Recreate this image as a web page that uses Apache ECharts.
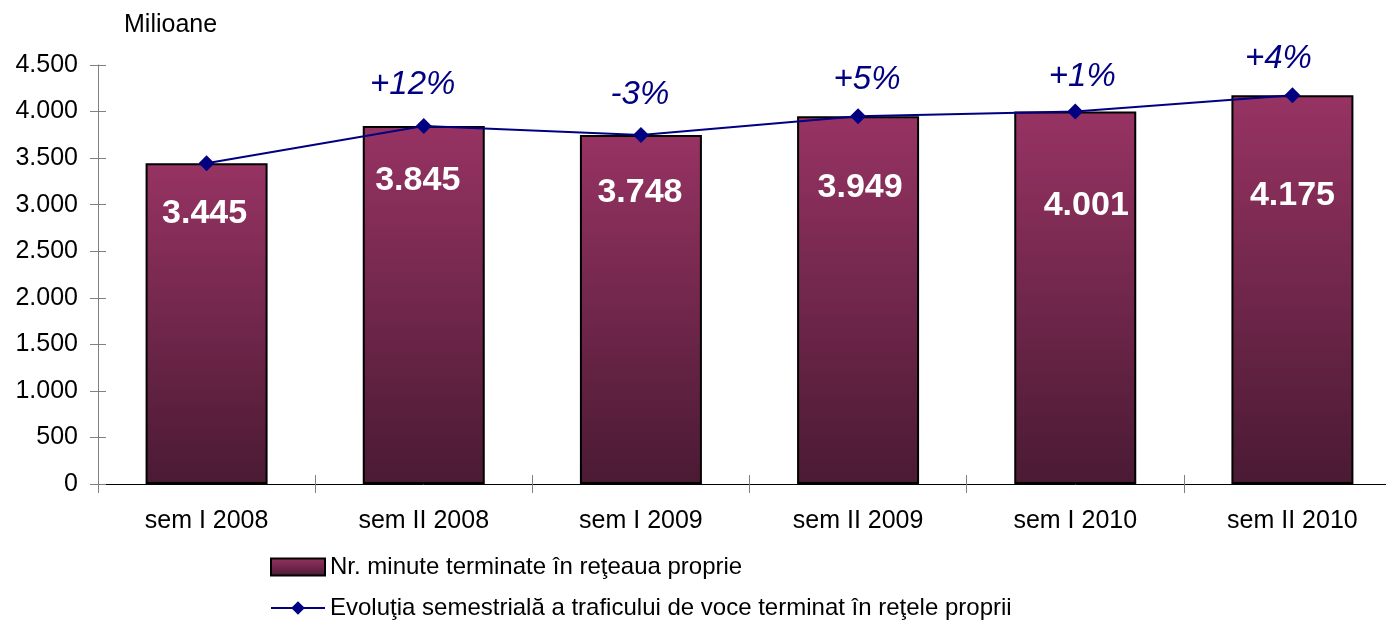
<!DOCTYPE html>
<html>
<head>
<meta charset="utf-8">
<script src="https://cdn.jsdelivr.net/npm/echarts@6/dist/echarts.min.js"></script>
<style>
html,body{margin:0;padding:0;background:#fff;overflow:hidden;width:1386px;height:621px;}
#chart{width:1401px;height:621px;}
</style>
</head>
<body>
<div id="chart"></div>
<script>
const categories = ['sem I 2008', 'sem II 2008', 'sem I 2009', 'sem II 2009', 'sem I 2010', 'sem II 2010'];
const minutes = [3445, 3845, 3748, 3949, 4001, 4175];
const pctLabels = ['', '+12%', '-3%', '+5%', '+1%', '+4%'];
const barName = 'Nr. minute terminate în reţeaua proprie';
const lineName = 'Evoluţia semestrială a traficului de voce terminat în reţele proprii';
const yUnit = 'Milioane';

// label placement (styling only)
const barLabelDist = [33, 38, 41, 54, 77, 83];
const barLabelDx = [-2, -6, -1, 2, 11, 0];
const pctLabelDist = [17, 17, 16, 12, 10, 12];
const pctLabelDx = [0, -11, -1, 9, 7, -14];

const FONT = '"Liberation Sans", Arial, sans-serif';
const fmt = v => {
  const s = String(v);
  return s.length > 3 ? s.slice(0, s.length - 3) + '.' + s.slice(s.length - 3) : s;
};

const chart = echarts.init(document.getElementById('chart'));
const barGrad = new echarts.graphic.LinearGradient(0, 0, 0, 1, [
  { offset: 0, color: '#973363' },
  { offset: 1, color: '#4a1a33' }
]);

chart.setOption({
  animation: false,
  backgroundColor: '#ffffff',
  textStyle: { fontFamily: FONT },
  grid: { left: 98, right: 0, top: 65, bottom: 137 },
  graphic: [{
    type: 'text', left: 124, top: 13,
    style: { text: yUnit, font: '25px ' + FONT, fill: '#000' }
  }],
  legend: [{
    data: [{ name: barName, icon: 'rect' }], left: 270, top: 555, orient: 'vertical',
    padding: 0, itemWidth: 54, itemHeight: 17,
    textStyle: { fontSize: 24, color: '#000', fontFamily: FONT }
  }, {
    data: [lineName], left: 270, top: 596, orient: 'vertical',
    padding: 0, itemWidth: 54, itemHeight: 17,
    textStyle: { fontSize: 24, color: '#000', fontFamily: FONT }
  }],
  xAxis: [{
    type: 'category', data: categories, position: 'bottom',
    axisLine: { lineStyle: { color: '#000', width: 1 } },
    axisTick: { show: true, length: 9, lineStyle: { color: '#808080' } },
    axisLabel: { fontSize: 25, color: '#000', margin: 25, fontFamily: FONT }
  }, {
    type: 'category', data: categories, position: 'bottom',
    axisLine: { show: false },
    axisTick: { show: true, inside: true, length: 9, lineStyle: { color: '#808080' } },
    axisLabel: { show: false }
  }],
  yAxis: [{
    type: 'value', min: 0, max: 4500, interval: 500, position: 'left',
    axisLine: { show: true, lineStyle: { color: '#808080' } },
    axisTick: { show: true, length: 8, lineStyle: { color: '#808080' } },
    splitLine: { show: false },
    axisLabel: { fontSize: 25, color: '#000', margin: 20, fontFamily: FONT, formatter: fmt }
  }, {
    type: 'value', min: 0, max: 4500, interval: 500, position: 'left',
    axisLine: { show: false },
    axisTick: { show: true, inside: true, length: 8, lineStyle: { color: '#808080' } },
    splitLine: { show: false },
    axisLabel: { show: false }
  }],
  series: [{
    name: barName, type: 'bar', xAxisIndex: 0, yAxisIndex: 0,
    barWidth: 122,
    itemStyle: { color: barGrad, borderColor: '#000', borderWidth: 2 },
    data: minutes.map((v, i) => ({
      value: v, label: { distance: barLabelDist[i], offset: [barLabelDx[i], 0] }
    })),
    label: {
      show: true, position: 'insideTop', color: '#fff', fontWeight: 'bold',
      fontSize: 34, fontFamily: FONT, formatter: p => fmt(p.value)
    },
    z: 2
  }, {
    name: lineName, type: 'line', xAxisIndex: 0, yAxisIndex: 0,
    data: minutes.map((v, i) => ({
      value: v, label: { distance: pctLabelDist[i], offset: [pctLabelDx[i], 0] }
    })),
    symbol: 'diamond', symbolSize: 16,
    lineStyle: { color: '#000080', width: 2 },
    itemStyle: { color: '#000080' },
    label: {
      show: true, position: 'top', color: '#000080',
      fontStyle: 'italic', fontSize: 33, fontFamily: FONT,
      formatter: p => pctLabels[p.dataIndex]
    },
    z: 3
  }]
});
</script>
</body>
</html>
